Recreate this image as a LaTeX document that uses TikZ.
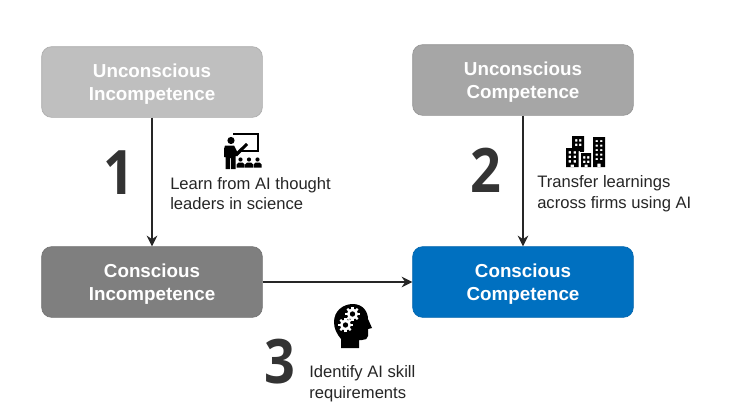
\documentclass[tikz,border=0pt]{standalone}
\usepackage{fontspec}
\setmainfont{Liberation Sans}
\newfontfamily\numfont{Open Sans}
\usetikzlibrary{arrows.meta}
\definecolor{boxa}{HTML}{BFBFBF}
\definecolor{boxb}{HTML}{A6A6A6}
\definecolor{boxc}{HTML}{7F7F7F}
\definecolor{boxd}{HTML}{0070C0}
\definecolor{ink}{HTML}{262626}
\definecolor{numink}{HTML}{333333}
\tikzset{
  x=0.75pt,y=-0.75pt,
  stage/.style={draw=#1!90!black,line width=0.5pt,fill=#1,rounded corners=7.5pt,minimum width=165.5pt,minimum height=53pt,
    text=white,align=center,font=\fontsize{14.1}{17.3}\selectfont\bfseries,inner sep=0pt},
  flow/.style={draw=ink,line width=2.2pt,-{Stealth[length=8pt,width=8pt]}},
  bignum/.style={text=numink,font=\fontsize{46}{46}\selectfont\numfont\bfseries,inner sep=0pt,xscale=0.88},
  note/.style={text=ink,align=left,anchor=west,font=\fontsize{12.45}{15.4}\selectfont,inner sep=0pt},
}
\newcommand{\downstrut}{\rule{0pt}{13pt}}
\begin{document}
\begin{tikzpicture}
\useasboundingbox[fill=white] (0,0) rectangle (733,414);
\node[stage=boxa] (ui) at (152,82) {\downstrut Unconscious\\Incompetence};
\node[stage=boxb] (uc) at (523,80) {\downstrut Unconscious\\Competence};
\node[stage=boxc] (ci) at (152,282) {\downstrut Conscious\\Incompetence};
\node[stage=boxd] (cc) at (523,282) {\downstrut Conscious\\Competence};
\draw[flow] (ui) -- (ci);
\draw[flow] (uc) -- (cc);
\draw[flow] (ci) -- (cc);
\node[bignum] (n1) at (119,172.5) {1};
\node[bignum] (n2) at (486,170) {2};
\node[bignum] (n3) at (280,361.5) {3};
\node[note] (t1) at (170,193.7) {Learn from AI thought\\leaders in science};
\node[note] (t2) at (537,193.7) {Transfer learnings\\across firms using AI};
\node[note] (t3) at (309,383.7) {Identify AI skill\\requirements};
% teacher icon
\begin{scope}[shift={(210,125)}]
\draw[black,line width=0.9pt,fill=none] (23,9) -- (48,9) -- (48,26) -- (30,26);
\fill[black] (21,15.5) circle (3.6);
\fill[black] (15,20.5) -- (24,20.5) -- (27,26.5) -- (36,18) -- (38,20) -- (27.5,31) -- (25.5,31) -- (25.5,44) -- (21,44) -- (21,33) -- (20,33) -- (20,44) -- (15.5,44) -- (15.5,32) -- (14,32) -- (14,24) -- cycle;
\foreach \cx in {30.5,39,47.5}{
  \fill[black] (\cx,34.5) circle (2.1);
  \fill[black] (\cx-4,42.5) -- (\cx-4,39.5) -- (\cx-2,37.5) -- (\cx+2,37.5) -- (\cx+4,39.5) -- (\cx+4,42.5) -- cycle;
}
\end{scope}
% buildings icon
\begin{scope}[shift={(555,125)}]
\fill[black,even odd rule] (17,11) rectangle (29,26)
  (20,14) rectangle (22.3,16.5) (24,14) rectangle (26.3,16.5) (20,18.5) rectangle (22.3,21) (24,18.5) rectangle (26.3,21);
\fill[black] (25,21) rectangle (29,27);
\fill[black,even odd rule] (11,23) rectangle (23.5,42)
  (13.5,26) rectangle (16,28.5) (18.5,26) rectangle (21,28.5) (13.5,30.5) rectangle (16,33) (18.5,30.5) rectangle (21,33) (13.5,35) rectangle (16,37.5) (18.5,35) rectangle (21,37.5) (15.5,39.5) rectangle (19,42);
\fill[black,even odd rule] (26,28) rectangle (36,42)
  (28,31) rectangle (30.3,33.5) (32,31) rectangle (34.3,33.5) (28,35.5) rectangle (30.3,38) (32,35.5) rectangle (34.3,38) (29.5,39.5) rectangle (32.5,42);
\fill[black,even odd rule] (38,12) rectangle (50,42)
  (40.5,15) rectangle (42.8,17.2) (45,15) rectangle (47.3,17.2)
  (40.5,19.5) rectangle (42.8,21.7) (45,19.5) rectangle (47.3,21.7)
  (40.5,24) rectangle (42.8,26.2) (45,24) rectangle (47.3,26.2)
  (40.5,28.5) rectangle (42.8,30.7) (45,28.5) rectangle (47.3,30.7)
  (40.5,33) rectangle (42.8,35.2) (45,33) rectangle (47.3,35.2)
  (42.3,38.5) rectangle (45.7,42);
\end{scope}
% head icon
\begin{scope}[shift={(325,298)}]
\fill[black] (16,50) -- (16,41) .. controls (12,36) and (9,31) .. (9,24) .. controls (9,13) and (18,6) .. (28,6) .. controls (38,6) and (43,14) .. (43,21) -- (47,30) -- (43,31) -- (43,38) .. controls (43,41) and (40,42) .. (37,42) -- (34,42) -- (34,50) -- cycle;
\foreach \gx/\gy in {27.5/16,20.5/27}{
  \foreach \a in {0,45,90,135}{
    \draw[white,line width=1.6pt] (\gx,\gy) ++(\a:7.4) -- ++(\a+180:14.8);
  }
  \fill[white] (\gx,\gy) circle (5.6);
  \fill[black] (\gx,\gy) circle (2.7);
}
\end{scope}
\end{tikzpicture}
\end{document}
